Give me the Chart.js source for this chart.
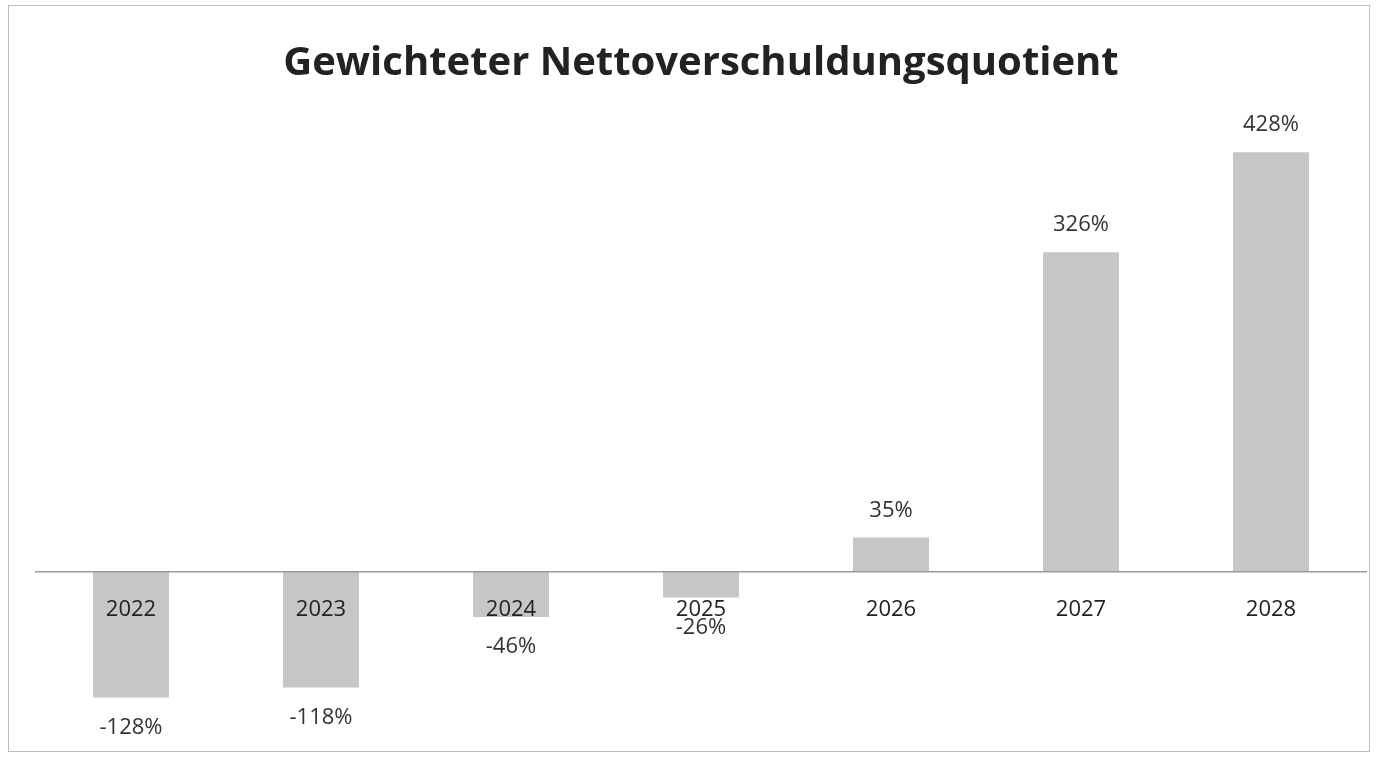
<!DOCTYPE html>
<html>
<head>
<meta charset="utf-8">
<script src="https://cdn.jsdelivr.net/npm/chart.js@4"></script>
<style>
  body { margin: 0; background: #fff; }
  #frame {
    position: absolute; left: 8px; top: 5px; width: 1362px; height: 747px;
    border: 1px solid #bdbdbd; box-sizing: border-box;
  }
</style>
</head>
<body>
<div id="frame"><canvas id="debt-chart"></canvas></div>
<script>
const years = ["2022", "2023", "2024", "2025", "2026", "2027", "2028"];
const ratios = [-128, -118, -46, -26, 35, 326, 428];

// value labels above positive bars, below negative ones
const valueLabels = {
  id: "valueLabels",
  afterDatasetsDraw(chart) {
    const ctx = chart.ctx;
    const meta = chart.getDatasetMeta(0);
    ctx.save();
    ctx.font = "22px 'Open Sans'";
    ctx.fillStyle = "#333";
    ctx.textAlign = "center";
    ctx.textBaseline = "middle";
    meta.data.forEach((bar, i) => {
      const v = ratios[i];
      const y = v >= 0 ? bar.y - 27 : bar.y + 30;
      ctx.fillText(v + "%", bar.x, y);
    });
    ctx.restore();
  },
};

const config = {
  type: "bar",
  data: {
    labels: years,
    datasets: [
      {
        label: "Nettoverschuldungsquotient",
        data: ratios,
        backgroundColor: "#c6c6c6",
        borderWidth: 0,
        barPercentage: 0.4,
        categoryPercentage: 1,
      },
    ],
  },
  options: {
    responsive: true,
    maintainAspectRatio: false,
    animation: false,
    layout: {
      padding: { left: 27, right: 3, top: 0, bottom: 32 },
    },
    plugins: {
      legend: { display: false },
      tooltip: { enabled: false },
      title: {
        display: true,
        text: "Gewichteter Nettoverschuldungsquotient",
        color: "#222",
        font: { family: "'Open Sans'", weight: "bold", size: 40 },
        padding: { top: 34, bottom: 42.6 },
      },
    },
    scales: {
      x: {
        position: { y: 0 },
        grid: { display: false, drawTicks: false, tickLength: 0 },
        border: { display: true, color: "#9a9a9a", width: 1.5, z: 1 },
        ticks: {
          z: 1,
          color: "#222",
          padding: 25,
          font: { family: "'Open Sans'", size: 22 },
        },
      },
      y: {
        display: false,
        min: -150,
        max: 450,
      },
    },
  },
  plugins: [valueLabels],
};

new Chart(document.getElementById("debt-chart").getContext("2d"), config);
</script>
</body>
</html>
